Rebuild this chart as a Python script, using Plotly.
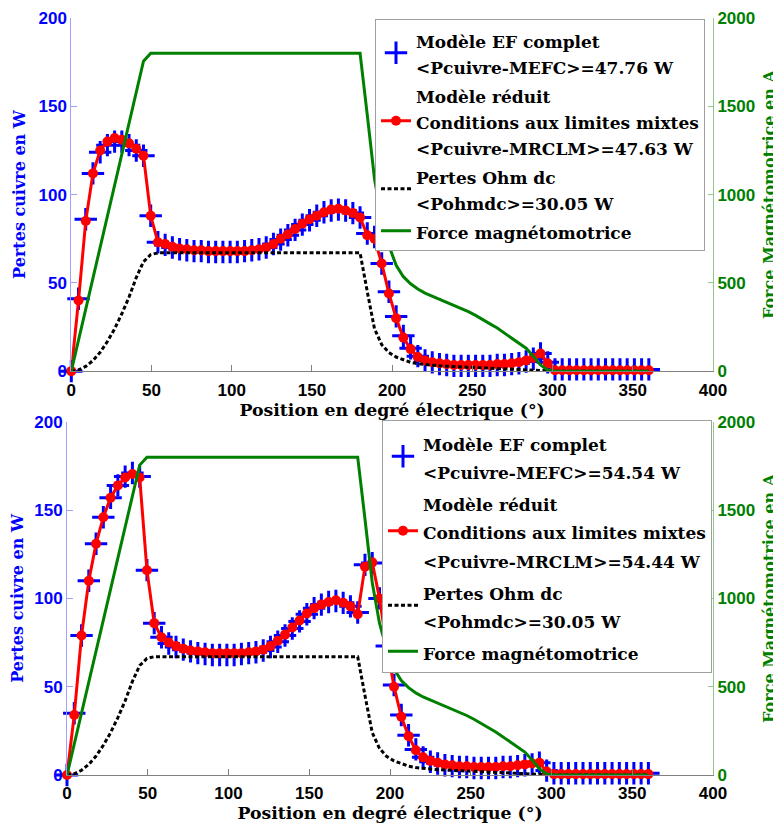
import plotly.graph_objects as go

# ---------------- data ----------------
position_deg = [0, 4.5, 9, 13.5, 18, 22.5, 27, 31.5, 36, 40.5, 45, 49.5, 54, 58.5, 63, 67.5,
                72, 76.5, 81, 85.5, 90, 94.5, 99, 103.5, 108, 112.5, 117, 121.5, 126, 130.5,
                135, 139.5, 144, 148.5, 153, 157.5, 162, 166.5, 171, 175.5, 180, 184.5, 189,
                193.5, 198, 202.5, 207, 211.5, 216, 220.5, 225, 229.5, 234, 238.5, 243, 247.5,
                252, 256.5, 261, 265.5, 270, 274.5, 279, 283.5, 288, 292.5, 297, 301.5, 306,
                310.5, 315, 319.5, 324, 328.5, 333, 337.5, 342, 346.5, 351, 355.5, 360]

# Top panel: copper losses (W)
p_mefc_top = [0, 41, 86, 112, 124, 128, 130, 130, 128, 125, 122,
              88, 73, 71.5, 70, 69, 68.5, 68, 68, 67.5, 67.5,
              67.5, 67.5, 67.5, 68, 68.5, 69, 70, 72, 74.5, 77,
              80, 83, 85.5, 88, 90, 91, 91.5, 91, 89.5, 87,
              78, 76, 61, 45, 31, 20, 13, 8.5, 6, 5,
              4, 3.5, 3, 3, 3, 3, 3, 3, 3.5, 3.5,
              4, 4.5, 5.5, 7, 10, 5, 1, 1, 1, 1,
              1, 1, 1, 1, 1, 1, 1, 1, 1, 1]
p_mrclm_top = [0, 40, 85, 112, 125, 130, 132, 131, 129, 126, 122,
               88, 73, 72, 70.5, 69.5, 69, 68.5, 68.5, 68, 68,
               68, 68, 68, 68, 68.5, 69, 70, 72, 75, 77.5,
               80.5, 83.5, 86, 88, 90, 91.5, 92, 91, 89.5, 87,
               77, 75, 61, 44, 30, 19, 12.5, 8, 6, 5,
               4.5, 4, 3.5, 3.5, 3.5, 3.5, 3.5, 3.5, 4, 4,
               4.5, 5, 6, 7.5, 10, 4.5, 0.5, 0.5, 0.5, 0.5,
               0.5, 0.5, 0.5, 0.5, 0.5, 0.5, 0.5, 0.5, 0.5, 0.5]

# Bottom panel: copper losses (W)
p_mefc_bot = [0, 35, 79, 110, 131, 146, 157, 164, 169, 171, 169,
              116, 86, 78, 74.5, 72.5, 71, 70, 69, 68.5, 68,
              68, 68, 68, 68.5, 69, 69.5, 70.5, 72.5, 75.5, 79,
              83, 87, 91, 94.5, 96.5, 98, 98.5, 97.5, 95.5, 92,
              119, 120, 100, 73, 51, 34, 22.5, 14.5, 10, 7.5,
              6.5, 5.5, 5, 4.5, 4.5, 4, 4, 4, 4, 4.5,
              4.5, 5, 5.5, 6, 7, 2.5, 1, 1, 1, 1,
              1, 1, 1, 1, 1, 1, 1, 1, 1, 1]
p_mrclm_bot = [0, 34, 79, 110, 131, 146, 157, 164, 168.5, 170.5, 168.5,
               116, 86, 78, 75, 73, 71.5, 70.5, 70, 69.5, 69,
               69, 69, 69, 69, 69.5, 70, 71, 73, 76, 79.5,
               83.5, 87.5, 91.5, 94.5, 96.5, 98, 99, 97.5, 95.5, 91,
               118, 120.5, 100, 73, 50, 33, 22, 14, 10, 8,
               7, 6, 5.5, 5, 5, 4.5, 4.5, 4.5, 4.5, 5,
               5, 5.5, 6, 6.5, 7, 2, 0.5, 0.5, 0.5, 0.5,
               0.5, 0.5, 0.5, 0.5, 0.5, 0.5, 0.5, 0.5, 0.5, 0.5]

# DC ohmic losses (W), same in both panels
p_ohm_dc = [0, 0.7, 2.7, 6, 10.7, 16.8, 24, 32.5, 42, 53, 62,
            66, 67, 67, 67, 67, 67, 67, 67, 67, 67,
            67, 67, 67, 67, 67, 67, 67, 67, 67, 67,
            67, 67, 67, 67, 67, 67, 67, 67, 67, 67,
            45, 24, 15, 10.5, 8, 6.3, 5, 4.2, 3.7, 3.3,
            3, 2.8, 2.6, 2.4, 2.2, 2.0, 1.8, 1.5, 1.3, 1.1,
            0.9, 0.6, 0.4, 0.2, 0.05, 0, 0, 0, 0, 0,
            0, 0, 0, 0, 0, 0, 0, 0, 0, 0]

# Magnetomotive force (A), same in both panels
fmm = [0, 176, 351, 527, 702, 878, 1053, 1229, 1404, 1580, 1755,
       1800, 1800, 1800, 1800, 1800, 1800, 1800, 1800, 1800, 1800,
       1800, 1800, 1800, 1800, 1800, 1800, 1800, 1800, 1800, 1800,
       1800, 1800, 1800, 1800, 1800, 1800, 1800, 1800, 1800, 1800,
       1450, 1090, 860, 710, 600, 535, 495, 465, 442, 425,
       405, 388, 372, 355, 337, 316, 294, 268, 244, 216,
       190, 163, 130, 85, 35, 6, 0, 0, 0, 0,
       0, 0, 0, 0, 0, 0, 0, 0, 0, 0]

x_ticks = [0, 50, 100, 150, 200, 250, 300, 350, 400]
yl_ticks = [0, 50, 100, 150, 200]
yr_ticks = [0, 500, 1000, 1500, 2000]

names_top = ["Modèle EF complet<br>&lt;Pcuivre-MEFC&gt;=47.76 W",
             "Modèle réduit<br>Conditions aux limites mixtes<br>&lt;Pcuivre-MRCLM&gt;=47.63 W",
             "Pertes Ohm dc<br>&lt;Pohmdc&gt;=30.05 W",
             "Force magnétomotrice"]
names_bot = ["Modèle EF complet<br>&lt;Pcuivre-MEFC&gt;=54.54 W",
             "Modèle réduit<br>Conditions aux limites mixtes<br>&lt;Pcuivre-MRCLM&gt;=54.44 W",
             "Pertes Ohm dc<br>&lt;Pohmdc&gt;=30.05 W",
             "Force magnétomotrice"]

x_title = "Position en degré électrique (°)"
yl_title = "Pertes cuivre en W"
yr_title = "Force Magnétomotrice en A"

# ---------------- style ----------------
PAGE = 8                      # default page margin around the figure
W, H = 781 - PAGE, 823 - PAGE
ML = 66.7 - PAGE               # left edge of the bottom plot
MR = W - (713 - PAGE)          # right axis position
MT = 17.7 - PAGE
MB = H - (775 - PAGE)
PW, PH = W - ML - MR, H - MT - MB
SERIF = "DejaVu Serif"
SANS = "Liberation Sans"
BLUE, RED, GREEN, BLACK = "#0000ff", "#ff0000", "#008000", "#000000"
LEG_TXT = 17


def px_x(p):   # reference-pixel x -> paper fraction
    return (p - PAGE - ML) / PW


def px_y(p):   # reference-pixel y -> paper fraction
    return (H - MB - (p - PAGE)) / PH


def leg_name(s):
    parts = s.split("<br>")
    return "<br>".join('<span style="font-size:%dpx">%s</span>' % (LEG_TXT, p) for p in parts)


fig = go.Figure()


def add_panel(xa, ya, ya2, legend, p_mefc, p_mrclm, names):
    fig.add_trace(go.Scatter(
        x=position_deg, y=p_mefc, xaxis=xa, yaxis=ya, mode="markers",
        marker=dict(symbol="cross-thin", size=16, color=BLUE, line=dict(color=BLUE, width=3)),
        name=leg_name(names[0]), legend=legend, legendgroup=legend + "a", cliponaxis=False))
    fig.add_trace(go.Scatter(
        x=position_deg, y=p_mrclm, xaxis=xa, yaxis=ya, mode="lines+markers",
        line=dict(color=RED, width=3),
        marker=dict(symbol="circle", size=10, color=RED),
        name=leg_name(names[1]), legend=legend, legendgroup=legend + "b", cliponaxis=False))
    fig.add_trace(go.Scatter(
        x=position_deg, y=p_ohm_dc, xaxis=xa, yaxis=ya, mode="lines",
        line=dict(color=BLACK, width=3, dash="4px,2.5px"),
        name=leg_name(names[2]), legend=legend, legendgroup=legend + "c"))
    fig.add_trace(go.Scatter(
        x=position_deg, y=fmm, xaxis=xa, yaxis=ya2, mode="lines",
        line=dict(color=GREEN, width=3),
        name=leg_name(names[3]), legend=legend, legendgroup=legend + "d"))


add_panel("x", "y", "y2", "legend", p_mefc_top, p_mrclm_top, names_top)
add_panel("x2", "y3", "y4", "legend2", p_mefc_bot, p_mrclm_bot, names_bot)


def tick_font(c):
    return dict(family=SANS, size=17, color=c, weight="bold")


def title_font(c, s=16):
    return dict(family=SERIF, size=s, color=c, weight="bold")


def xaxis_cfg(domain, anchor):
    return dict(domain=domain, anchor=anchor, range=[0, 400], tickvals=x_ticks,
                ticks="inside", ticklen=6, tickcolor="#808080", showline=True,
                linecolor="#808080", linewidth=1, showgrid=False, zeroline=False,
                tickfont=tick_font("black"), automargin=False, ticklabelstandoff=3,
                title=dict(text=x_title, font=title_font("black", 17.3), standoff=5))


def yl_cfg(domain, anchor):
    return dict(domain=domain, anchor=anchor, range=[0, 200], tickvals=yl_ticks,
                ticks="inside", ticklen=6, tickcolor="#a0a0ff", showline=True,
                linecolor="#a0a0ff", linewidth=1, showgrid=False, zeroline=False,
                tickfont=tick_font(BLUE), automargin=False,
                title=dict(text=yl_title, font=title_font(BLUE), standoff=8))


def yr_cfg(over, anchor):
    return dict(overlaying=over, anchor=anchor, side="right", range=[0, 2000],
                tickvals=yr_ticks, ticks="inside", ticklen=5, tickcolor="#90c890",
                showline=True, linecolor="#90c890", linewidth=1, showgrid=False,
                zeroline=False, tickfont=tick_font(GREEN), automargin=False,
                title=dict(text=yr_title, font=title_font(GREEN), standoff=9))


def legend_cfg(right_px, top_px, line_font):
    return dict(x=px_x(right_px), y=px_y(top_px), xanchor="right", yanchor="top",
                bgcolor="white", bordercolor="#a0a0a0", borderwidth=1,
                font=dict(family=SERIF, size=line_font, color="black", weight="bold"),
                traceorder="grouped", tracegroupgap=0, itemwidth=30, valign="middle")


fig.update_layout(
    width=W, height=H, autosize=False,
    margin=dict(l=ML, r=MR, t=MT, b=MB, autoexpand=False),
    paper_bgcolor="white", plot_bgcolor="white",
    xaxis=xaxis_cfg([px_x(71), 1], "y"),
    yaxis=yl_cfg([px_y(371), 1], "x"),
    yaxis2=yr_cfg("y", "x"),
    xaxis2=xaxis_cfg([0, 1], "y3"),
    yaxis3=yl_cfg([0, px_y(421.7)], "x2"),
    yaxis4=yr_cfg("y3", "x2"),
    legend=legend_cfg(705, 19, 20),
    legend2=legend_cfg(712, 420, 22),
)

fig.write_html("out.html")
